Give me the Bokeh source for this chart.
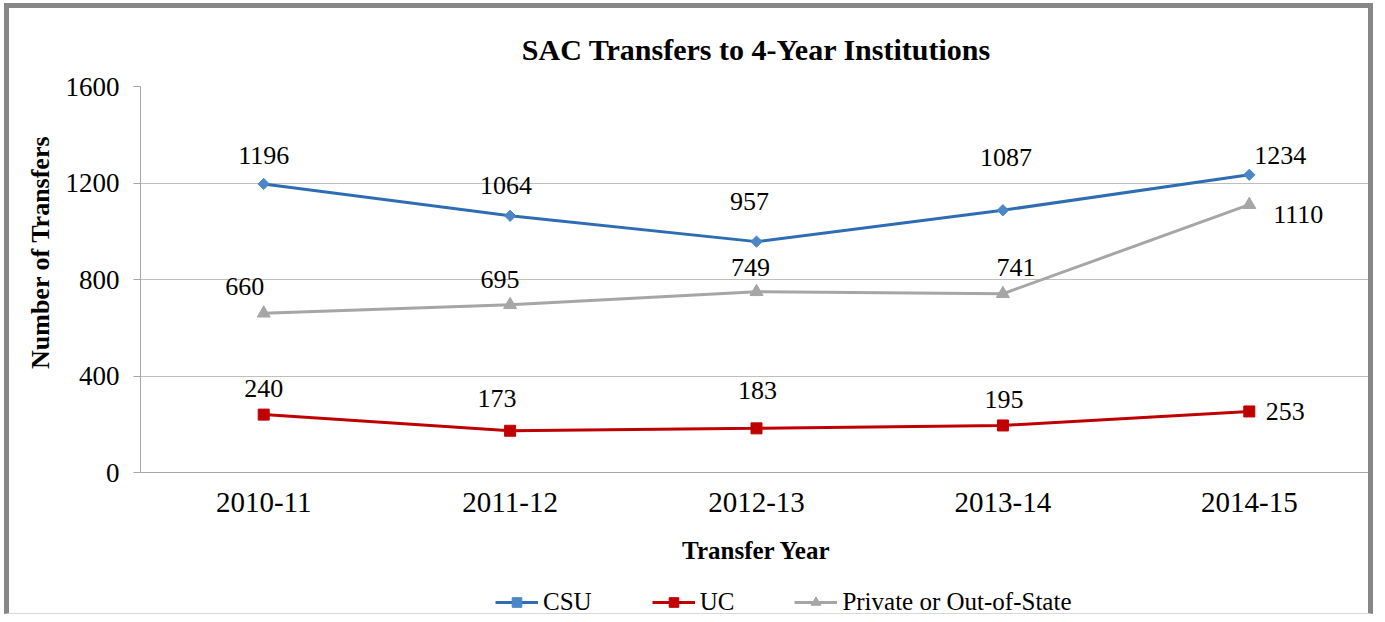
import math
from bokeh.plotting import figure
from bokeh.models import (Range1d, FixedTicker, Title, Legend, LegendItem,
                          ColumnDataSource)
from bokeh.core.properties import value
from bokeh.embed import file_html
from bokeh.resources import INLINE

# ---------------- data ----------------
categories = ["2010-11", "2011-12", "2012-13", "2013-14", "2014-15"]
csu = [1196, 1064, 957, 1087, 1234]
uc = [240, 173, 183, 195, 253]
private = [660, 695, 749, 741, 1110]
y_ticks = [0, 400, 800, 1200, 1600]
series_names = ["CSU", "UC", "Private or Out-of-State"]

# ---------------- label placement (pixels: +right, +down) ----------------
csu_dx = [0, -4, -7, 3, 31]
csu_dy = [-28, -30, -40, -53, -19]
uc_dx = [0, -13, 1, 1, 36]
uc_dy = [-26, -32, -38, -26, 0]
pr_dx = [-19, -10, -6, 13, 49]
pr_dy = [-27, -25, -24, -26, 10]

FONT = "Liberation Serif"
xs = list(range(len(categories)))

# layout in pixels
AXIS_PX = 386          # height of the 0..1600 value band
BELOW_PX = 146         # extra frame space below the zero line (axis texts + legend)
y_max = y_ticks[-1]
y_min = -y_max * BELOW_PX / AXIS_PX

p = figure(width=1369, height=611,
           x_range=Range1d(-0.5, len(categories) - 0.5),
           y_range=Range1d(y_min, y_max),
           output_backend="svg", toolbar_location=None,
           min_border_left=131, min_border_right=6,
           min_border_top=78, min_border_bottom=1)
p.styles = {"margin": "3px 0 0 4px",
            "border-top": "5px solid #878787",
            "border-left": "5px solid #878787",
            "border-right": "5px solid #878787",
            "border-bottom": "1px solid #d9d9d9"}
p.outline_line_color = None
p.background_fill_color = "white"
p.border_fill_color = "white"

# title
p.title.text = "SAC Transfers to 4-Year Institutions"
p.title.align = "center"
p.title.text_font = FONT
p.title.text_font_size = "30px"
p.title.text_font_style = "bold"
p.title.text_color = "black"
p.title.standoff = 42

# axes
AX = "#A6A6A6"
p.yaxis.ticker = FixedTicker(ticks=y_ticks)
p.yaxis.bounds = (y_ticks[0], y_ticks[-1])
p.yaxis.axis_line_color = AX
p.yaxis.major_tick_line_color = AX
p.yaxis.major_tick_out = 7
p.yaxis.major_tick_in = 0
p.yaxis.minor_tick_line_color = None
p.yaxis.major_label_standoff = 14
p.yaxis.major_label_text_font = FONT
p.yaxis.major_label_text_font_size = "27px"
p.yaxis.major_label_text_color = "black"

p.xaxis.fixed_location = 0
p.xaxis.ticker = FixedTicker(ticks=xs)
p.xaxis.major_label_overrides = {i: c for i, c in zip(xs, categories)}
p.xaxis.axis_line_color = AX
p.xaxis.major_tick_line_color = None
p.xaxis.major_tick_out = 0
p.xaxis.major_tick_in = 0
p.xaxis.minor_tick_line_color = None
p.xaxis.major_label_standoff = 20
p.xaxis.major_label_text_font = FONT
p.xaxis.major_label_text_font_size = "29px"
p.xaxis.major_label_text_color = "black"
p.xaxis.axis_label = "Transfer Year"
p.xaxis.axis_label_standoff = 22
p.xaxis.axis_label_text_font = FONT
p.xaxis.axis_label_text_font_size = "25px"
p.xaxis.axis_label_text_font_style = "bold"
p.xaxis.axis_label_text_color = "black"

p.add_layout(Title(text="Number of Transfers", align="right", offset=49,
                   standoff=16, text_font=FONT, text_font_size="26px",
                   text_font_style="bold", text_color="black"), "left")

p.xgrid.grid_line_color = None
p.ygrid.ticker = FixedTicker(ticks=y_ticks)
p.ygrid.grid_line_color = "#BFBFBF"
p.ygrid.grid_line_width = 1

# series
l1 = p.line(xs, csu, line_color="#2E6DB4", line_width=3)
m1 = p.scatter(xs, csu, marker="square", angle=math.pi / 4, size=8,
               fill_color="#4A86C8", line_color="#4A86C8")
l2 = p.line(xs, uc, line_color="#C00000", line_width=3)
m2 = p.scatter(xs, uc, marker="square", size=11,
               fill_color="#C00000", line_color="#C00000")
l3 = p.line(xs, private, line_color="#A6A6A6", line_width=3)
m3 = p.scatter(xs, private, marker="triangle", size=13,
               fill_color="#A6A6A6", line_color="#A6A6A6")

# data labels
for vals, dx, dy in ((csu, csu_dx, csu_dy), (uc, uc_dx, uc_dy),
                     (private, pr_dx, pr_dy)):
    src = ColumnDataSource(dict(x=xs, y=vals, t=[str(v) for v in vals],
                                dx=dx, dy=dy))
    p.text(x="x", y="y", text="t", x_offset="dx", y_offset="dy", source=src,
           text_align="center", text_baseline="middle",
           text_font=value(FONT), text_font_size="26px", text_color="black")

legend = Legend(items=[LegendItem(label=series_names[0], renderers=[l1, m1]),
                       LegendItem(label=series_names[1], renderers=[l2, m2]),
                       LegendItem(label=series_names[2], renderers=[l3, m3])],
                orientation="horizontal", location=(355, 2),
                padding=0, margin=0, spacing=60, glyph_width=43,
                glyph_height=24, label_standoff=5, label_text_font=FONT,
                label_text_font_size="25px", label_text_color="black",
                border_line_color=None, background_fill_alpha=0)
p.add_layout(legend)

open("out.html", "w").write(file_html(p, INLINE))
